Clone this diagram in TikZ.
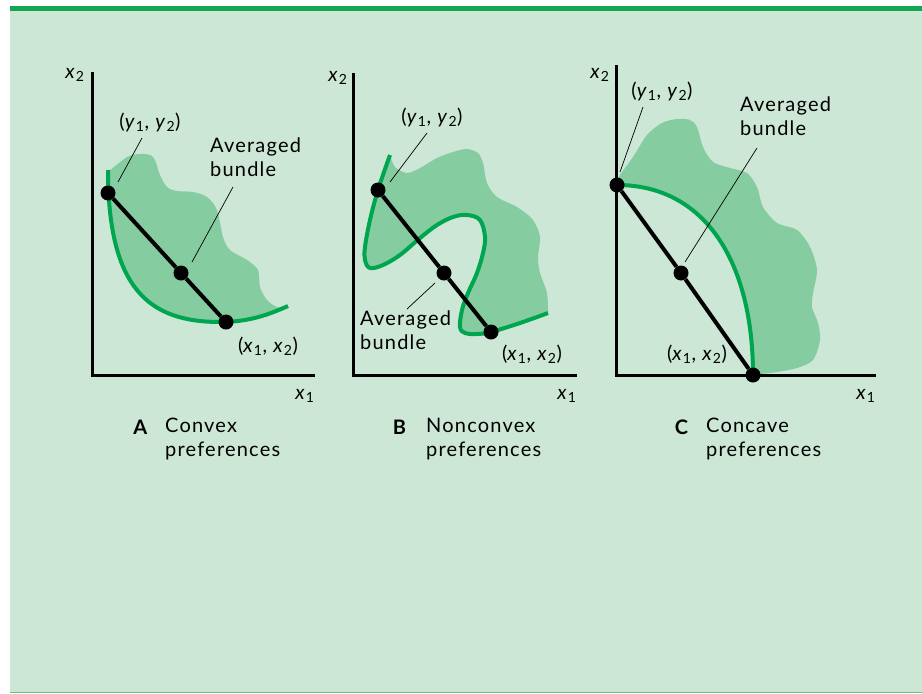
\documentclass[tikz,border=0pt]{standalone}
\usepackage{fontspec}
\setmainfont{Lato}[LetterSpace=6]
\usetikzlibrary{positioning}
\definecolor{bgpanel}{HTML}{CDE7D6}
\definecolor{topband}{HTML}{14A651}
\definecolor{bottomline}{HTML}{6DB88A}
\definecolor{shadegreen}{HTML}{86CCA1}
\definecolor{curvegreen}{HTML}{00A550}
\newcommand{\vb}[2]{\textit{#1}\textsubscript{#2}}
\tikzset{
  lbl/.style={font=\fontsize{20}{24}\selectfont, inner sep=0pt},
  dot/.style={circle,fill=black,inner sep=0pt,minimum size=15pt},
  axis/.style={line width=3pt},
  chord/.style={line width=4pt},
  pref/.style={curvegreen,line width=4pt},
  region/.style={fill=shadegreen},
  leader/.style={line width=0.7pt}
}
\begin{document}
\begin{tikzpicture}[x=1pt,y=-1pt]
\useasboundingbox (0,0) rectangle (922,694);
\fill[bgpanel] (10,6) rectangle (922,692);
\fill[topband] (10,6) rectangle (922,11);
\draw[bottomline,line width=1pt] (10,692.5) -- (922,692.5);

% panel A
\fill[region] plot[smooth] coordinates {(108,172) (127,157) (140,154) (150,155) (155,160) (160,175) (167,187) (177,191) (193,192) (207,197) (217,210) (223,237) (230,250) (247,260) (258,270) (260,287) (267,300) (277,307) (288,307)}
  -- (288,306) .. controls (270,314) and (250,322) .. (220,322) .. controls (150,322) and (108,290) .. (108,170) -- cycle;
\draw[pref] (108,170) .. controls (108,290) and (150,322) .. (220,322) .. controls (250,322) and (270,314) .. (288,306);
\coordinate (ta) at (92,72);
\coordinate (oa) at (92,375);
\coordinate (ra) at (315,375);
\draw[axis] (ta) -- (oa) -- (ra);
\node[lbl] (x2a) at (75,75) {\vb{x}{2}};
\node[lbl] (x1a) at (305,396) {\vb{x}{1}};
\node[dot] (ya) at (108,193) {};
\node[dot] (ma) at (181,273) {};
\node[dot] (xa) at (226,322) {};
\draw[chord] (ya) -- (ma) -- (xa);
\node[lbl] (yla) at (150,122) {(\vb{y}{1}, \vb{y}{2})};
\node[lbl,align=left,anchor=north west] (mla) at (210,138) {Averaged\\bundle};
\node[lbl] (xla) at (268,346) {(\vb{x}{1}, \vb{x}{2})};
\coordinate (yla1) at (142,138);
\coordinate (yla2) at (118,182);
\coordinate (mla1) at (233,187);
\coordinate (mla2) at (192,262);
\node[lbl,anchor=base] (capa) at (141,434) {\textbf{A}};
\node[lbl,align=left,anchor=north west] (txta) at (165,418) {Convex\\preferences};

% panel B
\fill[region] plot[smooth] coordinates {(390,155) (395,167) (407,173) (420,168) (437,158) (453,152) (467,149) (478,153) (483,163) (487,183) (497,197) (517,207) (533,220) (540,237) (538,257) (540,273) (547,293) (548,313)}
  -- plot[smooth,tension=0.6] coordinates {(548,313) (520,323) (491,332) (477,334) (465,333) (460,327) (462,310) (468,293) (477,273) (483,253) (485,237) (480,220) (467,215) (453,217) (437,225) (420,238) (400,255) (383,265) (370,268) (365,260) (365,247) (370,220) (378,190) (390,155)} -- cycle;
\draw[pref] plot[smooth,tension=0.6] coordinates {(390,155) (378,190) (370,220) (365,247) (365,260) (370,268) (383,265) (400,255) (420,238) (437,225) (453,217) (467,215) (480,220) (485,237) (483,253) (477,273) (468,293) (462,310) (460,327) (465,333) (477,334) (491,332) (520,323) (548,313)};
\coordinate (tb) at (353,73);
\coordinate (ob) at (353,375);
\coordinate (rb) at (577,375);
\draw[axis] (tb) -- (ob) -- (rb);
\node[lbl] (x2b) at (338,78) {\vb{x}{2}};
\node[lbl] (x1b) at (567,396) {\vb{x}{1}};
\node[dot] (yb) at (378,190) {};
\node[dot] (mb) at (444,273) {};
\node[dot] (xb) at (491,332) {};
\draw[chord] (yb) -- (mb) -- (xb);
\node[lbl] (ylb) at (432,117) {(\vb{y}{1}, \vb{y}{2})};
\node[lbl,align=left,anchor=north west] (mlb) at (360,311) {Averaged\\bundle};
\node[lbl] (xlb) at (532,354) {(\vb{x}{1}, \vb{x}{2})};
\coordinate (ylb1) at (427,133);
\coordinate (ylb2) at (390,182);
\coordinate (mlb1) at (435,283);
\coordinate (mlb2) at (407,309);
\node[lbl,anchor=base] (capb) at (400,434) {\textbf{B}};
\node[lbl,align=left,anchor=north west] (txtb) at (426,418) {Nonconvex\\preferences};

% panel C
\fill[region] plot[smooth] coordinates {(617,185) (618,178) (633,157) (647,135) (662,123) (677,119) (690,120) (697,127) (703,147) (713,162) (730,168) (747,173) (757,187) (763,207) (777,223) (797,230) (810,247) (817,270) (813,293) (812,307) (818,323) (820,340) (813,360) (797,368) (777,372) (753,375)}
  -- (753,375) .. controls (753,262) and (705,185) .. (617,185) -- cycle;
\draw[pref] (617,185) .. controls (705,185) and (753,262) .. (753,375);
\coordinate (tc) at (616,65);
\coordinate (oc) at (616,375);
\coordinate (rc) at (876,375);
\draw[axis] (tc) -- (oc) -- (rc);
\node[lbl] (x2c) at (600,75) {\vb{x}{2}};
\node[lbl] (x1c) at (866,396) {\vb{x}{1}};
\node[dot] (yc) at (617,185) {};
\node[dot] (mc) at (681,273) {};
\node[dot] (xc) at (753,375) {};
\draw[chord] (yc) -- (mc) -- (xc);
\node[lbl] (ylc) at (662,91) {(\vb{y}{1}, \vb{y}{2})};
\node[lbl,align=left,anchor=north west] (mlc) at (740,97) {Averaged\\bundle};
\node[lbl] (xlc) at (697,354) {(\vb{x}{1}, \vb{x}{2})};
\coordinate (ylc1) at (643,107);
\coordinate (ylc2) at (620,172);
\coordinate (mlc1) at (757,148);
\coordinate (mlc2) at (685,262);
\node[lbl,anchor=base] (capc) at (682,434) {\textbf{C}};
\node[lbl,align=left,anchor=north west] (txtc) at (706,418) {Concave\\preferences};

\foreach \u/\v in {yla1/yla2,mla1/mla2,ylb1/ylb2,mlb1/mlb2,ylc1/ylc2,mlc1/mlc2} \draw[leader] (\u)--(\v);
\end{tikzpicture}
\end{document}
